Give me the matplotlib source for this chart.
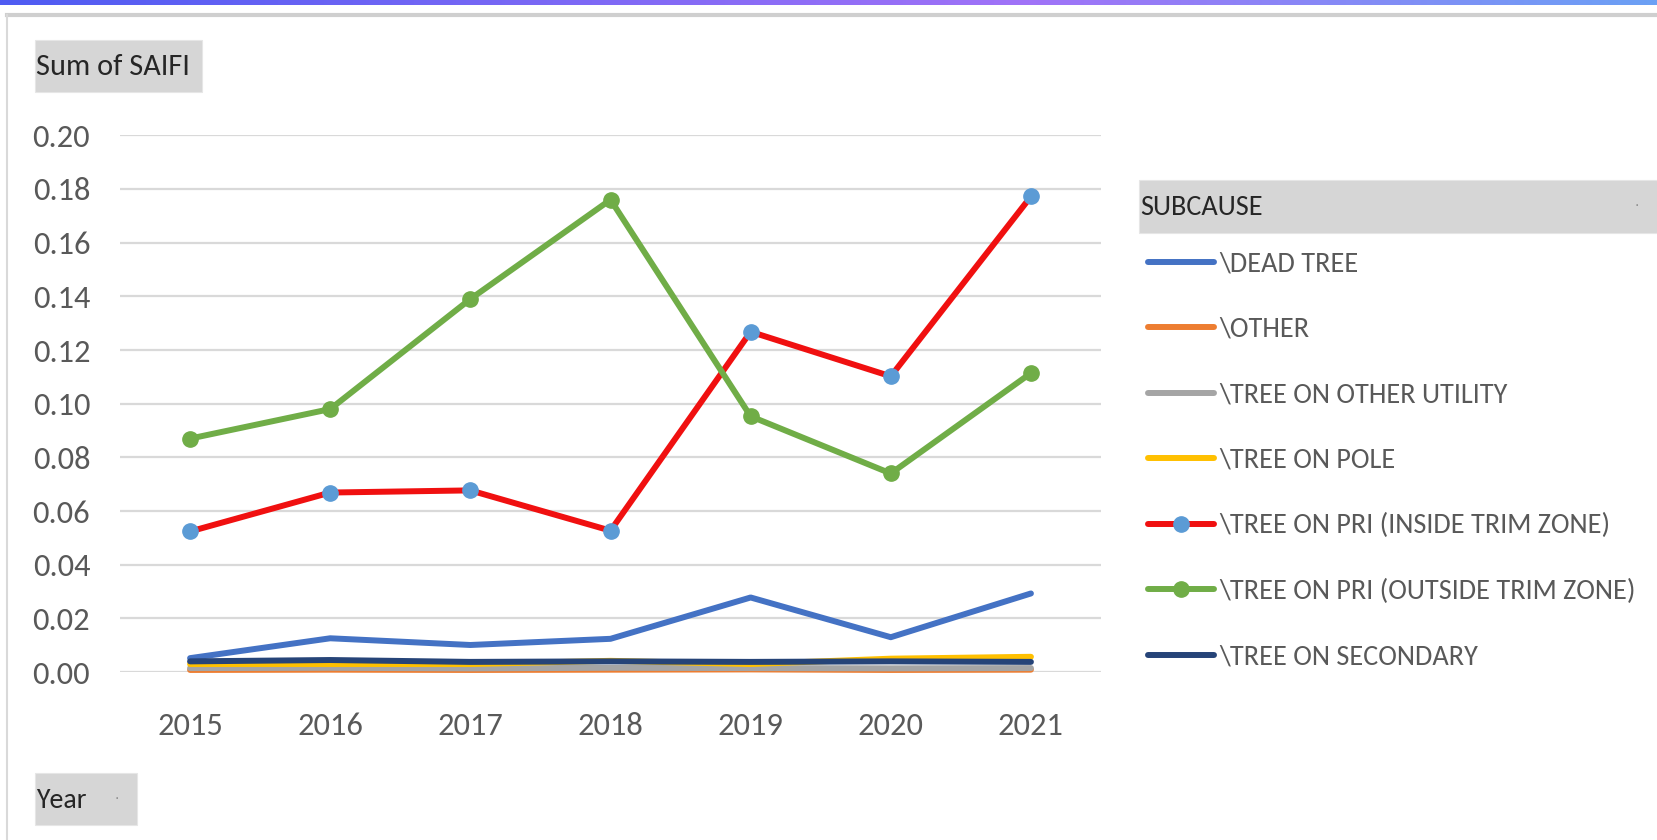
import matplotlib
matplotlib.use("Agg")
import matplotlib.pyplot as plt
import numpy as np
from matplotlib.patches import Rectangle
from matplotlib.lines import Line2D
from matplotlib import font_manager as fm
from matplotlib.textpath import TextPath

years = ["2015", "2016", "2017", "2018", "2019", "2020", "2021"]
dead_tree = [0.0052, 0.0126, 0.0101, 0.0124, 0.0278, 0.0130, 0.0293]
other = [0.0008, 0.0009, 0.0008, 0.0009, 0.0010, 0.0008, 0.0009]
tree_other_utility = [0.0015, 0.0016, 0.0014, 0.0016, 0.0015, 0.0014, 0.0015]
tree_on_pole = [0.0030, 0.0030, 0.0030, 0.0042, 0.0030, 0.0050, 0.0057]
inside_trim = [0.0524, 0.0669, 0.0677, 0.0527, 0.1268, 0.1102, 0.1772]
outside_trim = [0.0870, 0.0980, 0.1390, 0.1760, 0.0953, 0.0740, 0.1114]
secondary = [0.0040, 0.0045, 0.0038, 0.0040, 0.0038, 0.0040, 0.0038]

labels = ["\\DEAD TREE", "\\OTHER", "\\TREE ON OTHER UTILITY", "\\TREE ON POLE",
          "\\TREE ON PRI (INSIDE TRIM ZONE)", "\\TREE ON PRI (OUTSIDE TRIM ZONE)",
          "\\TREE ON SECONDARY"]
yticks = [0.00, 0.02, 0.04, 0.06, 0.08, 0.10, 0.12, 0.14, 0.16, 0.18, 0.20]

# ---- pick a narrow font if one is installed ----
def pick_font():
    for fam, stretch in [('Carlito', 'normal'), ('Liberation Sans Narrow', 'normal'),
                         ('DejaVu Sans', 'condensed'), ('Liberation Sans', 'normal')]:
        fp = fm.FontProperties(family=fam, stretch=stretch)
        try:
            path = fm.findfont(fp, fallback_to_default=False)
        except Exception:
            continue
        name = path.lower()
        if fam == 'DejaVu Sans' and 'condensed' not in name:
            continue
        if fam == 'Liberation Sans Narrow' and 'narrow' not in name:
            continue
        if fam == 'Carlito' and 'carlito' not in name:
            continue
        return fm.FontProperties(fname=path)
    return fm.FontProperties(family='DejaVu Sans')

FP = pick_font()

def size_for(text, width_px):
    w = TextPath((0, 0), text, size=1, prop=FP).get_extents().width
    return width_px * 72.0 / 100.0 / w

W, H = 1657, 840
fig = plt.figure(figsize=(W / 100, H / 100), dpi=100)
fig.patch.set_facecolor('white')

def fx(x):
    return x / W

def fy(y):
    return 1 - y / H

# top gradient bar
grad = np.linspace(0, 1, 512)
cols = np.array([[0.31, 0.36, 0.95], [0.63, 0.45, 0.97], [0.42, 0.63, 0.96]])
pos = np.array([0.0, 0.62, 1.0])
img = np.stack([np.interp(grad, pos, cols[:, i]) for i in range(3)], axis=-1)[None, :, :]
axg = fig.add_axes([0, fy(5.5), 1, 5.5 / H])
axg.imshow(img, aspect='auto', extent=[0, 1, 0, 1])
axg.set_axis_off()

# chart frame
fig.add_artist(Line2D([fx(7), fx(W)], [fy(15), fy(15)], transform=fig.transFigure,
                      color='#cfcfcf', lw=3))
fig.add_artist(Line2D([fx(7), fx(7)], [fy(15), fy(H)], transform=fig.transFigure,
                      color='#d9d9d9', lw=1.5))

x0, x1 = 120, 1101
ytop, ybot = 135.3, 672.1
ax = fig.add_axes([fx(x0), fy(ybot), (x1 - x0) / W, (ybot - ytop) / H])
x = np.arange(len(years))

series = [
    (dead_tree, '#4472C4', None, None),
    (other, '#ED7D31', None, None),
    (tree_other_utility, '#A5A5A5', None, None),
    (tree_on_pole, '#FFC000', None, None),
    (inside_trim, '#F01010', 'o', '#5B9BD5'),
    (outside_trim, '#70AD47', 'o', '#70AD47'),
    (secondary, '#264478', None, None),
]
handles = []
for (vals, c, m, mc), lab in zip(series, labels):
    ln, = ax.plot(x, vals, color=c, lw=4.3, marker=m, markersize=11,
                  markerfacecolor=mc, markeredgecolor=mc if mc else None,
                  solid_joinstyle='round', solid_capstyle='round', label=lab, zorder=3)
    ln.set_clip_on(False)
    handles.append(ln)

ytick_size = size_for("0.20", 55)
xtick_size = size_for("2015", 63)
tick_size = (ytick_size + xtick_size) / 2

ax.set_xlim(-0.5, len(years) - 0.5)
ax.set_ylim(0, 0.20)
ax.set_yticks(yticks)
ax.set_yticklabels([f"{v:.2f}" for v in yticks])
ax.set_xticks(x)
ax.set_xticklabels(years)
for t in ax.get_xticklabels() + ax.get_yticklabels():
    t.set_fontproperties(FP)
    t.set_fontsize(tick_size)
    t.set_color('#595959')
ax.grid(axis='y', color='#d9d9d9', lw=1.6, zorder=0)
for s in ax.spines.values():
    s.set_visible(False)
ax.tick_params(axis='both', length=0)
ax.tick_params(axis='y', pad=21.5)
ax.tick_params(axis='x', pad=29)

# field buttons
def button(xa, ya, xb, yb, text, width_px, dot=False, color='#262626'):
    fig.add_artist(Rectangle((fx(xa), fy(yb)), (xb - xa) / W, (yb - ya) / H,
                             transform=fig.transFigure, facecolor='#d6d6d6',
                             edgecolor='#e6e6e6', lw=0.8))
    fig.text(fx(xa + 1), fy((ya + yb) / 2 + 1), text, fontproperties=FP,
             fontsize=size_for(text, width_px), color=color, ha='left', va='center')
    if dot:
        fig.text(fx(xb - 20), fy((ya + yb) / 2), "·", fontsize=10, color='#8a8a8a',
                 ha='center', va='center')

button(35, 40, 202, 92, "Sum of SAIFI", 150)
button(35, 773, 137, 825, "Year", 50, dot=True)
button(1139, 180, 1657, 233, "SUBCAUSE", 121, dot=True)

# legend
leg_size = size_for(labels[5], 416)
LP = FP.copy()
LP.set_size(leg_size)
leg_px = leg_size * 100 / 72
pitch = 65.5
first_center = 264.0

def make_legend(spacing, top):
    return fig.legend(handles=handles, labels=labels, loc='upper left',
                      bbox_to_anchor=(fx(1148), fy(top)), frameon=False,
                      prop=LP, labelcolor='#595959',
                      handlelength=66 / leg_px, handletextpad=5 / leg_px,
                      labelspacing=spacing, borderaxespad=0, borderpad=0)

leg = make_legend(1.0, 240)
fig.canvas.draw()
r = fig.canvas.get_renderer()
cy = [H - 0.5 * (b.y0 + b.y1) for b in (t.get_window_extent(r) for t in leg.get_texts())]
p1 = (cy[-1] - cy[0]) / (len(cy) - 1)
text_h = p1 - 1.0 * leg_px
offset = cy[0] - 240
leg.remove()
leg = make_legend((pitch - text_h) / leg_px, first_center - offset)

fig.savefig("out.png", dpi=100, facecolor='white')
